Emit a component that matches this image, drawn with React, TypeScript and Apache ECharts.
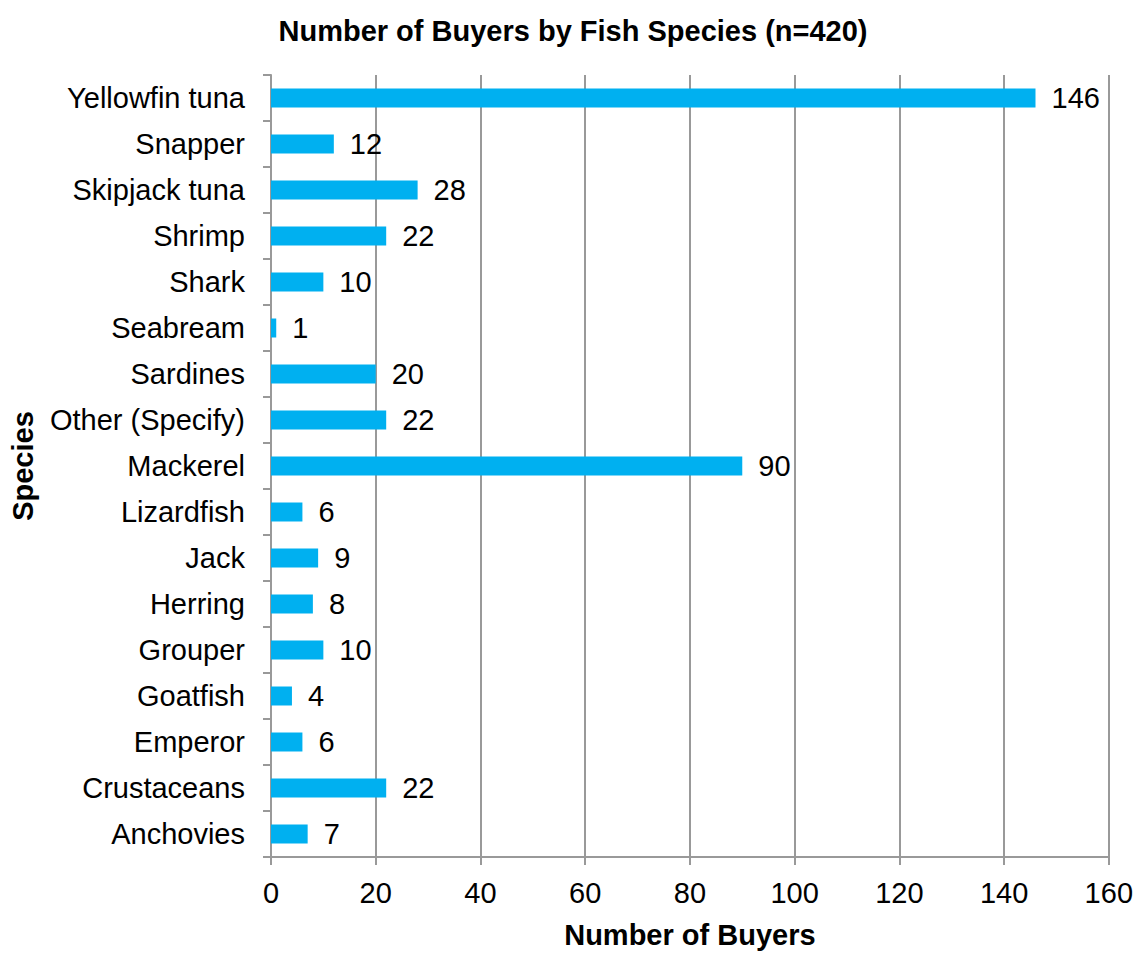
import React, { useEffect, useRef } from "react";
import * as echarts from "echarts";

const categories = [
  "Anchovies",
  "Crustaceans",
  "Emperor",
  "Goatfish",
  "Grouper",
  "Herring",
  "Jack",
  "Lizardfish",
  "Mackerel",
  "Other (Specify)",
  "Sardines",
  "Seabream",
  "Shark",
  "Shrimp",
  "Skipjack tuna",
  "Snapper",
  "Yellowfin tuna",
];
const buyers = [7, 22, 6, 4, 10, 8, 9, 6, 90, 22, 20, 1, 10, 22, 28, 12, 146];

const titleText = "Number of Buyers by Fish Species (n=420)";
const xAxisName = "Number of Buyers";
const yAxisName = "Species";

export default function App() {
  const ref = useRef<HTMLDivElement>(null);
  useEffect(() => {
    if (!ref.current) return;
    const chart = echarts.init(ref.current, undefined, { renderer: "svg" });
    const font = "Liberation Sans, Arial, sans-serif";
    const gray = "#999999";
    chart.setOption({
      animation: false,
      backgroundColor: "#ffffff",
      textStyle: { fontFamily: font },
      title: {
        text: titleText,
        left: 568,
        top: 11,
        textAlign: "center",
        textStyle: { fontFamily: font, fontSize: 29, fontWeight: "bold", color: "#000" },
      },
      grid: { left: 271, right: 27, top: 75, bottom: 92, containLabel: false },
      xAxis: {
        type: "value",
        min: 0,
        max: 160,
        interval: 20,
        name: xAxisName,
        nameLocation: "middle",
        nameGap: 63,
        nameTextStyle: { fontFamily: font, fontSize: 29, fontWeight: "bold", color: "#000" },
        axisLine: { show: true, lineStyle: { color: gray, width: 2 } },
        axisTick: { show: true, length: 8, lineStyle: { color: gray, width: 2 } },
        axisLabel: { fontFamily: font, fontSize: 29, color: "#000", margin: 21 },
        splitLine: { show: true, lineStyle: { color: gray, width: 2 } },
      },
      yAxis: {
        type: "category",
        data: categories,
        name: yAxisName,
        nameLocation: "middle",
        nameGap: 234,
        nameRotate: 90,
        nameTextStyle: { fontFamily: font, fontSize: 29, fontWeight: "bold", color: "#000" },
        axisLine: { show: true, lineStyle: { color: gray, width: 2 } },
        axisTick: { show: true, length: 8, alignWithLabel: false, lineStyle: { color: gray, width: 2 } },
        axisLabel: { fontFamily: font, fontSize: 29, color: "#000", margin: 26 },
        splitLine: { show: false },
      },
      series: [
        {
          type: "bar",
          data: buyers,
          barWidth: 19,
          itemStyle: { color: "#00B0F0" },
          label: {
            show: true,
            position: "right",
            distance: 16,
            fontFamily: font,
            fontSize: 29,
            color: "#000",
          },
        },
      ],
    });
    return () => chart.dispose();
  }, []);
  return (
    <div
      ref={ref}
      style={{ position: "fixed", left: 0, top: 0, width: 1136, height: 954, background: "#fff" }}
    />
  );
}
